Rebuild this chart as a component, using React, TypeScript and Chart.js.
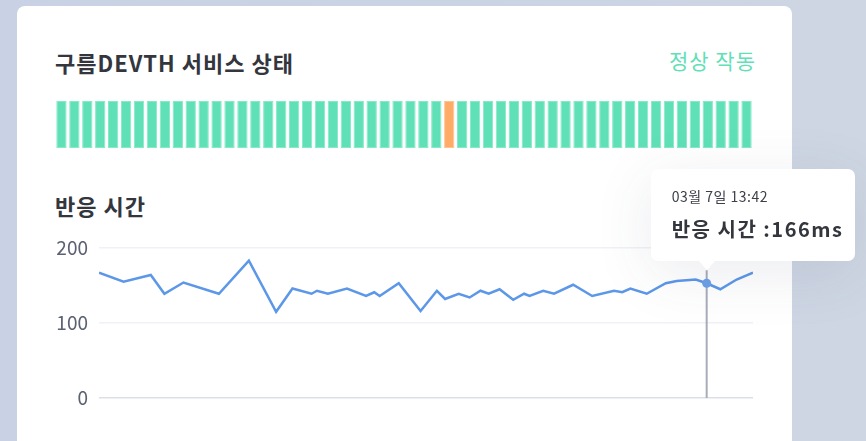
import React, { useEffect, useRef } from "react";
import { Chart, registerables } from "chart.js";

Chart.register(...registerables);

// ---- Data ----
const STATUS: string[] = [
  "ok","ok","ok","ok","ok","ok","ok","ok","ok","ok",
  "ok","ok","ok","ok","ok","ok","ok","ok","ok","ok",
  "ok","ok","ok","ok","ok","ok","ok","ok","ok","ok",
  "warn",
  "ok","ok","ok","ok","ok","ok","ok","ok","ok","ok",
  "ok","ok","ok","ok","ok","ok","ok","ok","ok","ok",
  "ok","ok","ok",
];

const TIMES: string[] = [
  "09:59","10:08","10:18","10:23","10:30","10:43","10:54","11:04","11:10","11:17",
  "11:19","11:23","11:30","11:37","11:40","11:42","11:49","11:57","12:03","12:06",
  "12:11","12:15","12:19","12:22","12:26","12:31","12:35","12:37","12:42","12:46",
  "12:53","13:00","13:08","13:11","13:14","13:20","13:27","13:31","13:38","13:42",
  "13:47","13:53","13:59",
];

const RESPONSE_MS: number[] = [
  167,155,164,139,154,139,183,115,146,139,
  143,139,146,136,141,136,153,116,143,132,
  139,134,143,139,145,131,139,136,143,139,
  151,136,143,141,146,139,153,156,158,153,
  145,158,167,
];

const Y_TICKS: number[] = [0, 100, 200];
const HOVER_INDEX = 39;
const HOVER_DATE = "03월 7일";
const HOVER_LABEL_MS = 166;

const TITLE = "구름DEVTH 서비스 상태";
const STATUS_TEXT = "정상 작동";
const SUBTITLE = "반응 시간";

const FONT = '"Noto Sans CJK KR", "Noto Sans", sans-serif';

const toMin = (t: string) => {
  const [h, m] = t.split(":").map(Number);
  return h * 60 + m;
};

export default function App() {
  const statusRef = useRef<HTMLCanvasElement | null>(null);
  const lineRef = useRef<HTMLCanvasElement | null>(null);
  const tipRef = useRef<HTMLDivElement | null>(null);

  const LINE_LEFT = 40;
  const LINE_TOP = 230;

  useEffect(() => {
    const statusChart = new Chart(statusRef.current!, {
      type: "bar",
      data: {
        labels: STATUS.map((_, i) => String(i)),
        datasets: [
          {
            data: STATUS.map(() => 1),
            backgroundColor: STATUS.map((s) => (s === "ok" ? "#5fe0b6" : "#ffab68")),
            borderColor: STATUS.map((s) => (s === "ok" ? "#86e9c8" : "#ffc291")),
            borderWidth: 1,
            borderSkipped: false,
            barPercentage: 0.8,
            categoryPercentage: 1,
          },
        ],
      },
      options: {
        responsive: false,
        animation: false,
        layout: { padding: 0 },
        plugins: { legend: { display: false }, tooltip: { enabled: false } },
        scales: {
          x: { display: false },
          y: { display: false, min: 0, max: 1 },
        },
        events: [],
      },
    });

    const xs = TIMES.map(toMin);

    const vlinePlugin = {
      id: "vline",
      afterDatasetsDraw(chart: any) {
        const meta = chart.getDatasetMeta(0);
        const pt = meta.data[HOVER_INDEX];
        if (!pt) return;
        const ctx = chart.ctx;
        ctx.save();
        ctx.strokeStyle = "#a8acb8";
        ctx.lineWidth = 2;
        ctx.beginPath();
        ctx.moveTo(pt.x, pt.y - 13);
        ctx.lineTo(pt.x, chart.chartArea.bottom);
        ctx.stroke();
        ctx.fillStyle = "#6c9fe9";
        ctx.beginPath();
        ctx.arc(pt.x, pt.y, 4.5, 0, Math.PI * 2);
        ctx.fill();
        ctx.restore();
      },
    };

    const lineChart = new Chart(lineRef.current!, {
      type: "line",
      data: {
        datasets: [
          {
            data: xs.map((x, i) => ({ x, y: RESPONSE_MS[i] })),
            borderColor: "#5c97e8",
            borderWidth: 2.5,
            pointRadius: 0,
            tension: 0,
            fill: false,
          },
        ],
      },
      options: {
        responsive: false,
        animation: false,
        layout: { padding: { left: 0, right: 7, top: 18, bottom: 12 } },
        plugins: { legend: { display: false }, tooltip: { enabled: false } },
        events: [],
        scales: {
          x: {
            type: "linear",
            display: false,
            min: xs[0],
            max: xs[xs.length - 1],
          },
          y: {
            min: 0,
            max: 200,
            afterFit: (s: any) => {
              s.width = 59;
              s.paddingTop = 0;
              s.paddingBottom = 0;
            },
            afterBuildTicks: (s: any) => {
              s.ticks = Y_TICKS.map((v) => ({ value: v }));
            },
            border: { display: false },
            grid: {
              drawTicks: false,
              color: (c: any) => (c.tick && c.tick.value === 0 ? "#dcdfe7" : "#f0f1f4"),
              lineWidth: 1.5,
            },
            ticks: {
              padding: 11,
              color: "#5d6273",
              font: { family: FONT, size: 19 },
            },
          },
        },
      },
      plugins: [vlinePlugin],
    });

    const pt = lineChart.getDatasetMeta(0).data[HOVER_INDEX] as any;
    if (tipRef.current && pt) {
      const px = LINE_LEFT + pt.x;
      const py = LINE_TOP + pt.y;
      tipRef.current.style.left = `${px - 56}px`;
      tipRef.current.style.top = `${py - 114}px`;
      tipRef.current.style.display = "block";
    }

    return () => {
      statusChart.destroy();
      lineChart.destroy();
    };
  }, []);

  return (
    <div
      style={{
        position: "fixed",
        inset: 0,
        overflow: "hidden",
        background: "linear-gradient(90deg, #c8d2e4 0%, #cbd4e3 60%, #ced6e3 100%)",
        fontFamily: FONT,
      }}
    >
      <div
        style={{
          position: "absolute",
          left: 17,
          top: 6,
          width: 775,
          height: 480,
          background: "#ffffff",
          borderRadius: 8,
        }}
      />
      <div
        style={{
          position: "absolute",
          left: 55,
          top: 47,
          fontSize: 22,
          fontWeight: 700,
          letterSpacing: 1,
          color: "#33363d",
          lineHeight: "30px",
          whiteSpace: "nowrap",
        }}
      >
        {TITLE}
      </div>
      <div
        style={{
          position: "absolute",
          right: 866 - 756,
          top: 45,
          fontSize: 21,
          fontWeight: 400,
          letterSpacing: 1,
          color: "#5fe0b6",
          lineHeight: "30px",
          whiteSpace: "nowrap",
        }}
      >
        {STATUS_TEXT}
      </div>
      <canvas
        ref={statusRef}
        width={698}
        height={47}
        style={{ position: "absolute", left: 55, top: 101, width: 698, height: 47 }}
      />
      <div
        style={{
          position: "absolute",
          left: 55,
          top: 190,
          fontSize: 22,
          fontWeight: 700,
          letterSpacing: 1,
          color: "#33363d",
          lineHeight: "30px",
          whiteSpace: "nowrap",
        }}
      >
        {SUBTITLE}
      </div>
      <canvas
        ref={lineRef}
        width={720}
        height={180}
        style={{ position: "absolute", left: LINE_LEFT, top: LINE_TOP, width: 720, height: 180 }}
      />
      <div
        ref={tipRef}
        style={{
          position: "absolute",
          display: "none",
          width: 204,
          height: 92,
          background: "#ffffff",
          borderRadius: 7,
          boxShadow: "0 12px 60px rgba(60, 70, 100, 0.10)",
        }}
      >
        <div
          style={{
            position: "absolute",
            left: 48,
            bottom: -9,
            width: 0,
            height: 0,
            borderLeft: "8px solid transparent",
            borderRight: "8px solid transparent",
            borderTop: "9px solid #ffffff",
          }}
        />
        <div
          style={{
            position: "absolute",
            left: 21,
            top: 17,
            fontSize: 14,
            letterSpacing: 0.5,
            color: "#3d4048",
            lineHeight: "20px",
            whiteSpace: "nowrap",
          }}
        >
          {`${HOVER_DATE} ${TIMES[HOVER_INDEX]}`}
        </div>
        <div
          style={{
            position: "absolute",
            left: 21,
            top: 46,
            fontSize: 20,
            fontWeight: 700,
            letterSpacing: 1.5,
            color: "#33363d",
            lineHeight: "28px",
            whiteSpace: "nowrap",
          }}
        >
          {`반응 시간 :${HOVER_LABEL_MS}ms`}
        </div>
      </div>
    </div>
  );
}
